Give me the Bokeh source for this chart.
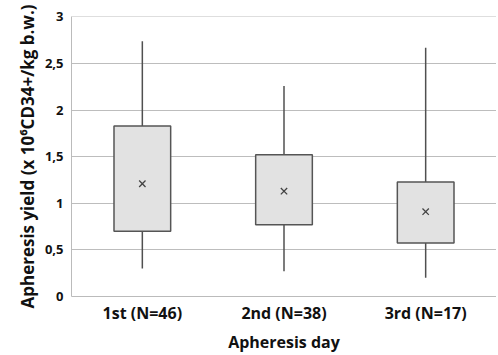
from bokeh.plotting import figure
from bokeh.models import Range1d, FactorRange, CustomJSTickFormatter, FixedTicker
from bokeh.embed import file_html
from bokeh.resources import INLINE

categories = ["1st (N=46)", "2nd (N=38)", "3rd (N=17)"]
whisker_low = [0.30, 0.27, 0.20]
q1 = [0.70, 0.77, 0.575]
q3 = [1.83, 1.52, 1.23]
whisker_high = [2.74, 2.26, 2.67]
means = [1.21, 1.13, 0.91]
y_ticks = [0, 0.5, 1, 1.5, 2, 2.5, 3]

FONT = "Open Sans"

p = figure(frame_width=425, frame_height=280,
           x_range=FactorRange(*categories, range_padding=0),
           y_range=Range1d(0, 3.005), output_backend="svg", toolbar_location=None,
           min_border_left=71, min_border_right=0, min_border_top=16, min_border_bottom=54)

p.segment(x0=categories, y0=whisker_low, x1=categories, y1=whisker_high,
          line_color="#505050", line_width=1.5)
p.vbar(x=categories, width=0.4, bottom=q1, top=q3,
       fill_color="#e2e2e2", line_color="#555555", line_width=1.5)
p.scatter(x=categories, y=means, marker="x", size=9, line_color="#444444", line_width=1.3)

p.outline_line_color = None
p.background_fill_color = "white"
p.border_fill_color = "white"

p.xgrid.grid_line_color = None
p.ygrid.grid_line_color = "#bdbdbd"
p.ygrid.grid_line_width = 1
p.yaxis.ticker = FixedTicker(ticks=y_ticks)
p.yaxis.formatter = CustomJSTickFormatter(code="return String(tick).replace('.', ',');")

p.yaxis.axis_label = "Apheresis yield (x 10\u2076CD34+/kg b.w.)"
p.xaxis.axis_label = "Apheresis day"
for ax in (p.xaxis, p.yaxis):
    ax.axis_line_color = "#bbbbbb"
    ax.major_tick_line_color = None
    ax.minor_tick_line_color = None
    ax.major_tick_out = 0
    ax.major_tick_in = 0
    ax.axis_label_text_font = FONT
    ax.axis_label_text_font_style = "bold"
    ax.axis_label_text_color = "#111111"
    ax.major_label_text_font = FONT
    ax.major_label_text_color = "#111111"
    ax.major_label_text_font_style = "bold"

p.yaxis.axis_label_text_font_size = "17px"
p.xaxis.axis_label_text_font_size = "16px"
p.yaxis.major_label_text_font_size = "13px"
p.yaxis.major_label_standoff = 8
p.yaxis.axis_label_standoff = 3
p.xaxis.major_label_text_font_size = "16px"
p.xaxis.major_label_standoff = 5
p.xaxis.axis_label_standoff = 4

open("out.html", "w").write(file_html(p, INLINE))
